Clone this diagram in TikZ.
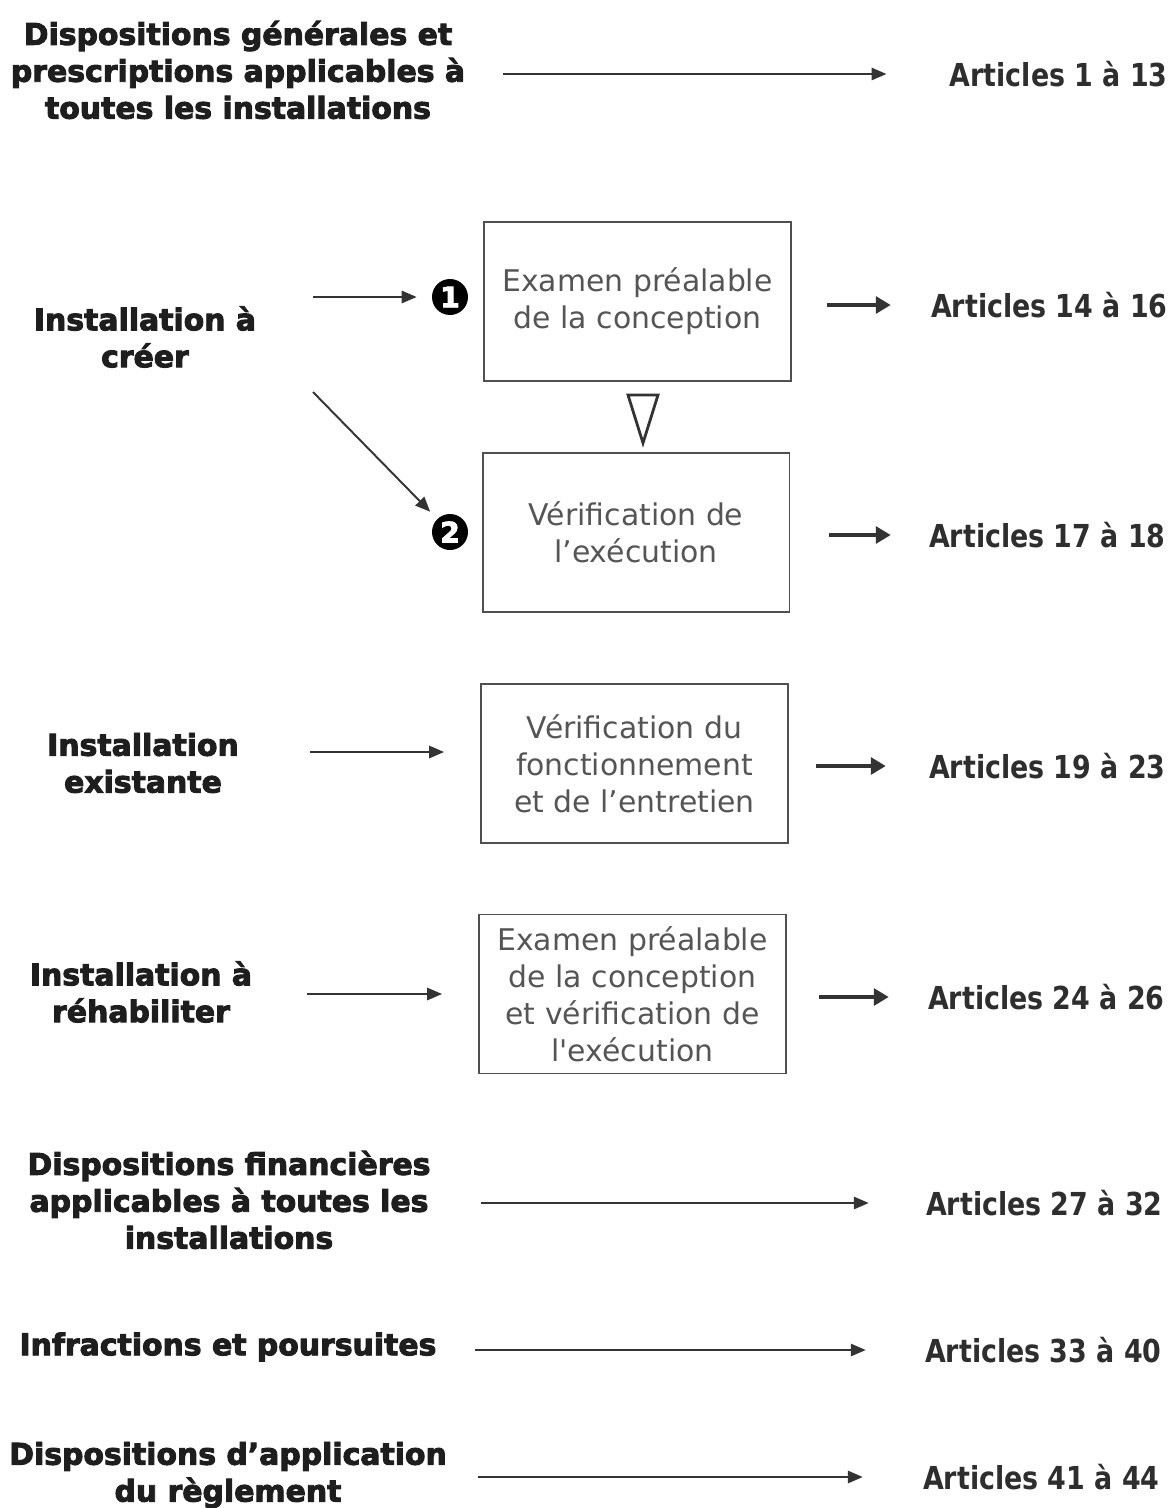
\documentclass[tikz,border=0pt]{standalone}
\usepackage{fontspec}
\setmainfont{DejaVu Sans}
\newfontfamily\headfont{DejaVu Sans Bold}[FakeBold=3.2]
\newfontfamily\artfont{DejaVu Sans Bold}[FakeStretch=0.85]
\usepackage{tikz}
\usetikzlibrary{arrows.meta,calc}
\definecolor{headcolor}{HTML}{1E1E1E}
\definecolor{refcolor}{HTML}{2E2E2E}
\definecolor{boxtext}{HTML}{555555}
\definecolor{boxframe}{HTML}{505050}
\definecolor{arrowcolor}{HTML}{333333}
\tikzset{
	rule scheme/.style={
		x=0.02cm,y=-0.02cm, % one unit = one pixel of the scan
		font=\fontsize{17}{21}\selectfont
	},
	chapter label/.style={
		align=center,
		inner sep=0pt,
		text=headcolor,
		font=\headfont\fontsize{17}{21}\selectfont
	},
	article ref/.style={
		anchor=east,
		inner sep=0pt,
		text=refcolor,
		font=\artfont\fontsize{18}{22}\selectfont
	},
	control box/.style={
		rectangle,
		draw=boxframe,
		line width=1.1pt,
		minimum width=6.14cm,
		minimum height=3.18cm,
		align=center,
		text=boxtext
	},
	step number/.style={
		circle,
		fill=black,
		text=white,
		inner sep=0pt,
		minimum size=0.72cm,
		font=\headfont\fontsize{16}{16}\selectfont
	},
	long arrow/.style={
		draw=arrowcolor,
		line width=1.1pt,
		-{Triangle[length=8.5pt,width=7pt]}
	},
	short arrow/.style={
		draw=arrowcolor,
		line width=2.8pt,
		-{Triangle[length=8.5pt,width=9.5pt]}
	},
	sequence mark/.style={
		draw=arrowcolor,
		line width=1.6pt,
		line join=miter
	}
}

\begin{document}
\begin{tikzpicture}[rule scheme]
	\useasboundingbox (0,0) rectangle (1173,1508);

	% chapters on the left
	\node[chapter label] (gen) at (238,70) {Dispositions générales et\\prescriptions applicables à\\toutes les installations};
	\node[chapter label] (creer) at (145,337) {Installation à\\créer};
	\node[chapter label] (exist) at (143,763) {Installation\\existante};
	\node[chapter label] (rehab) at (141,992) {Installation à\\réhabiliter};
	\node[chapter label] (fin) at (229,1200) {Dispositions financières\\applicables à toutes les\\installations};
	\node[chapter label] (infr) at (228,1347) {Infractions et poursuites};
	\node[chapter label] (appl) at (228,1475) {Dispositions d’application\\du règlement};

	% controls
	\node[control box] (box1) at (637.5,301.5) {Examen préalable\\de la conception};
	\node[control box] (box2) at (636,532.5) {Vérification de\\l’exécution};
	\node[control box] (box3) at (634.5,763.5) {Vérification du\\fonctionnement\\et de l’entretien};
	\node[control box] (box4) at (632.5,994) {Examen préalable\\de la conception\\et vérification de\\l\textquotesingle exécution};

	\node[step number] (step-one) at (450,297) {1};
	\node[step number] (step-two) at (450,532) {2};
	\draw[sequence mark] (628,395) -- (658,395) -- (643,443) -- cycle;

	% articles on the right
	\node[article ref] (art1) at (1168,74) {Articles 1 à 13};
	\node[article ref] (art14) at (1168,305) {Articles 14 à 16};
	\node[article ref] (art17) at (1166,535) {Articles 17 à 18};
	\node[article ref] (art19) at (1166,766) {Articles 19 à 23};
	\node[article ref] (art24) at (1165,997) {Articles 24 à 26};
	\node[article ref] (art27) at (1163,1203) {Articles 27 à 32};
	\node[article ref] (art33) at (1162,1350) {Articles 33 à 40};
	\node[article ref] (art41) at (1160,1477) {Articles 41 à 44};

	% connectors
	\draw[long arrow,shorten <=0.76cm,shorten >=1.26cm] (gen.east |- art1.west) -- (art1.west);
	\draw[long arrow,shorten <=1.14cm,shorten >=0.3cm] (creer.east |- step-one.west) -- (step-one.west);
	\coordinate (creer-fork) at (313,392);
	\draw[long arrow,shorten >=0.2cm] (creer-fork) -- (step-two);
	\draw[short arrow,shorten <=0.7cm,shorten >=0.8cm] (box1.east |- art14.west) -- (art14.west);
	\draw[short arrow,shorten <=0.78cm,shorten >=0.76cm] (box2.east |- art17.west) -- (art17.west);
	\draw[long arrow,shorten <=1.42cm,shorten >=0.72cm] ([yshift=0.23cm]box3.west -| exist.east) -- ([yshift=0.23cm]box3.west);
	\draw[short arrow,shorten <=0.54cm,shorten >=0.86cm] (box3.east |- art19.west) -- (art19.west);
	\draw[long arrow,shorten <=1.1cm,shorten >=0.72cm] (box4.west -| rehab.east) -- (box4.west);
	\draw[short arrow,shorten <=0.64cm,shorten >=0.78cm] (box4.east |- art24.west) -- (art24.west);
	\draw[long arrow,shorten <=1.0cm,shorten >=1.14cm] (fin.east |- art27.west) -- (art27.west);
	\draw[long arrow,shorten <=0.76cm,shorten >=1.18cm] (infr.east |- art33.west) -- (art33.west);
	\draw[long arrow,shorten <=0.62cm,shorten >=1.2cm] (appl.east |- art41.west) -- (art41.west);
\end{tikzpicture}
\end{document}
